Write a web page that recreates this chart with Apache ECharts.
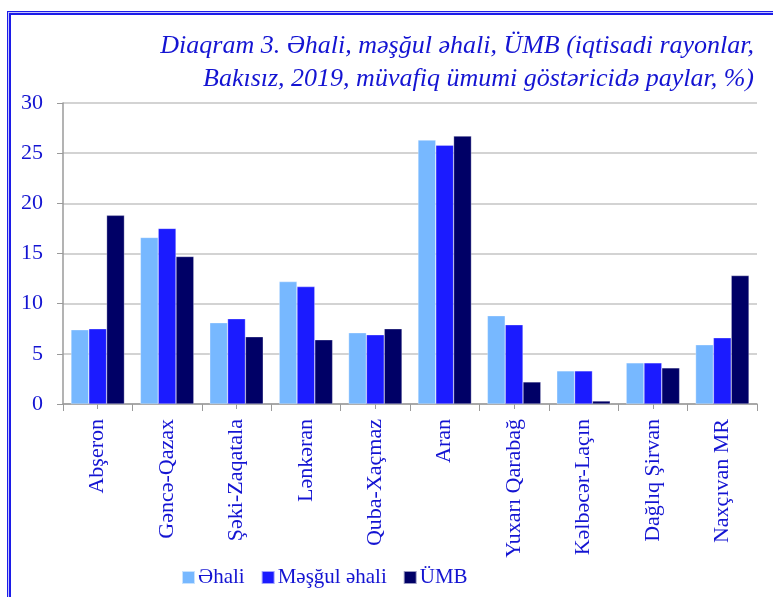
<!DOCTYPE html>
<html>
<head>
<meta charset="utf-8">
<script src="https://cdn.jsdelivr.net/npm/echarts@6/dist/echarts.min.js"></script>
<style>
  html, body { margin: 0; padding: 0; background: #fff; }
  #frameOuter {
    position: absolute; left: 7px; top: 11px; width: 800px; height: 620px;
    border-left: 1px solid #1c1ce8; border-top: 1px solid #1c1ce8; background: #c4c4ff;
  }
  #frameInner {
    position: absolute; left: 1px; top: 1px; width: 800px; height: 620px;
    border-left: 2px solid #1c1ce8; border-top: 2px solid #1c1ce8; background: #fff;
  }
  #main { position: absolute; left: 0; top: 0; width: 773px; height: 597px; }
</style>
</head>
<body>
<div id="frameOuter"><div id="frameInner"></div></div>
<div id="main"></div>
<script>
var regions = ['Abşeron', 'Gəncə-Qazax', 'Şəki-Zaqatala', 'Lənkəran', 'Quba-Xaçmaz',
  'Aran', 'Yuxarı Qarabağ', 'Kəlbəcər-Laçın', 'Dağlıq Şirvan', 'Naxçıvan MR'];
var ehali = [7.4, 16.6, 8.1, 12.2, 7.1, 26.3, 8.8, 3.3, 4.1, 5.9];
var mesgul = [7.5, 17.5, 8.5, 11.7, 6.9, 25.8, 7.9, 3.3, 4.1, 6.6];
var umb = [18.8, 14.7, 6.7, 6.4, 7.5, 26.7, 2.2, 0.3, 3.6, 12.8];
var yTicks = [0, 5, 10, 15, 20, 25, 30];

var textBlue = '#1414d2';
var font = '"Liberation Serif", "DejaVu Serif", serif';

var titleStyle = {
  color: textBlue,
  fontFamily: font,
  fontStyle: 'italic',
  fontWeight: 'normal',
  fontSize: 26
};

var chart = echarts.init(document.getElementById('main'));
chart.setOption({
  backgroundColor: 'transparent',
  animation: false,
  title: [{
    text: 'Diaqram 3. Əhali, məşğul əhali, ÜMB (iqtisadi rayonlar,',
    right: 14,
    top: 28,
    textStyle: titleStyle
  }, {
    text: 'Bakısız, 2019, müvafiq ümumi göstəricidə paylar, %)',
    right: 14,
    top: 61,
    textStyle: titleStyle
  }],
  legend: {
    bottom: 4,
    left: 176,
    itemWidth: 13,
    itemHeight: 13,
    itemGap: 16,
    icon: 'rect',
    textStyle: { color: textBlue, fontFamily: font, fontSize: 21, padding: [0, 0, 0, -2] },
    data: ['Əhali', 'Məşğul əhali', 'ÜMB']
  },
  grid: { left: 63, right: 16, top: 103, bottom: 193 },
  xAxis: [{
    type: 'category',
    data: regions,
    axisLine: { lineStyle: { color: '#9a9a9a', width: 1.5 } },
    axisTick: { show: true, length: 7, lineStyle: { color: '#9a9a9a' } },
    axisLabel: {
      rotate: 90,
      color: textBlue,
      fontFamily: font,
      fontSize: 22,
      margin: 15
    }
  }, {
    type: 'category',
    data: regions,
    position: 'bottom',
    axisLine: { show: false },
    axisTick: { show: true, alignWithLabel: true, length: 5, lineStyle: { color: '#9a9a9a' } },
    axisLabel: { show: false }
  }],
  yAxis: {
    type: 'value',
    min: yTicks[0],
    max: yTicks[yTicks.length - 1],
    interval: 5,
    axisLine: { show: true, lineStyle: { color: '#9a9a9a', width: 1.5 } },
    axisTick: { show: true, length: 6, lineStyle: { color: '#9a9a9a' } },
    splitLine: { lineStyle: { color: '#c4c4c4', width: 1.5 } },
    axisLabel: {
      color: textBlue,
      fontFamily: font,
      fontSize: 22,
      margin: 20
    }
  },
  series: [{
    name: 'Əhali',
    type: 'bar',
    data: ehali,
    barGap: '0%',
    barCategoryGap: '23%',
    itemStyle: { color: '#77b8ff', borderColor: 'rgba(255,255,255,0.6)', borderWidth: 0.5 }
  }, {
    name: 'Məşğul əhali',
    type: 'bar',
    data: mesgul,
    itemStyle: { color: '#1b1bff', borderColor: 'rgba(255,255,255,0.6)', borderWidth: 0.5 }
  }, {
    name: 'ÜMB',
    type: 'bar',
    data: umb,
    itemStyle: { color: '#000066', borderColor: 'rgba(255,255,255,0.6)', borderWidth: 0.5 }
  }]
});
</script>
</body>
</html>
